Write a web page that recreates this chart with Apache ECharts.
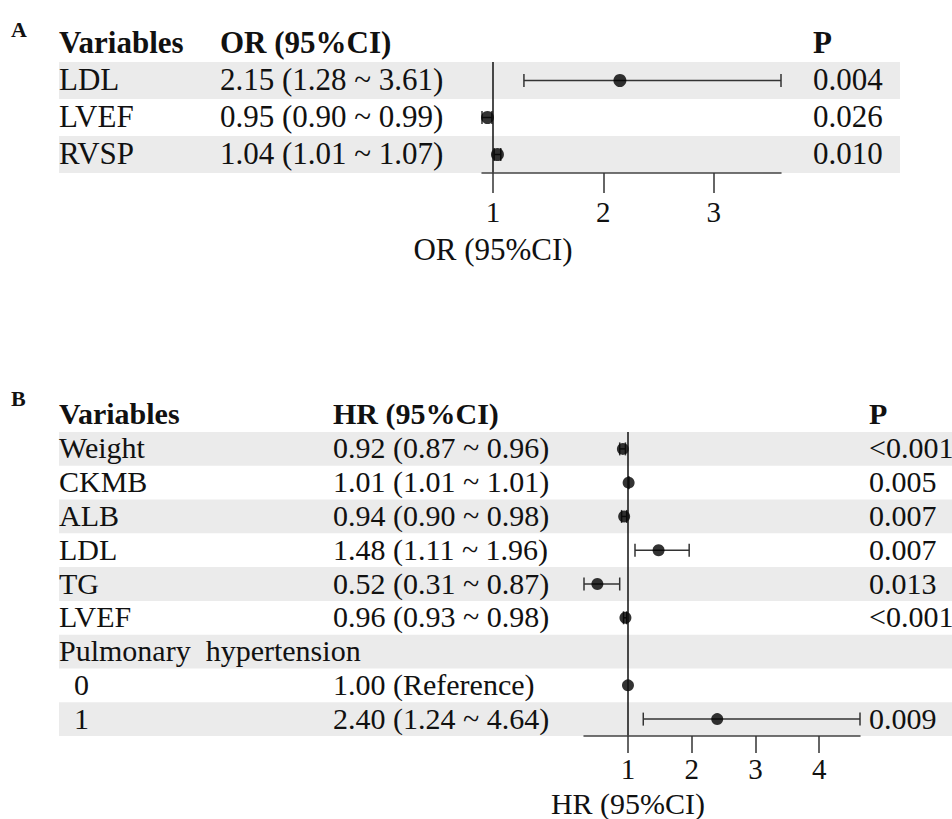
<!DOCTYPE html>
<html>
<head>
<meta charset="utf-8">
<script src="https://cdn.jsdelivr.net/npm/echarts@6/dist/echarts.min.js"></script>
<style>
  body { margin: 0; background: #fff; }
  #main { width: 952px; height: 819px; }
</style>
</head>
<body>
<div id="main"></div>
<script>
// panel A: logistic regression
var varsA = ['LDL', 'LVEF', 'RVSP'];
var orA = [2.15, 0.95, 1.04];
var lowA = [1.28, 0.90, 1.01];
var highA = [3.61, 0.99, 1.07];
var pA = ['0.004', '0.026', '0.010'];
var ticksA = [1, 2, 3];

// panel B: cox regression
var varsB = ['Weight', 'CKMB', 'ALB', 'LDL', 'TG', 'LVEF', 'Pulmonary\u00a0\u00a0hypertension', '\u00a0\u00a00', '\u00a0\u00a01'];
var hrB = [0.92, 1.01, 0.94, 1.48, 0.52, 0.96, null, 1.00, 2.40];
var lowB = [0.87, 1.01, 0.90, 1.11, 0.31, 0.93, null, null, 1.24];
var highB = [0.96, 1.01, 0.98, 1.96, 0.87, 0.98, null, null, 4.64];
var pB = ['<0.001', '0.005', '0.007', '0.007', '0.013', '<0.001', '', '', '0.009'];
var ticksB = [1, 2, 3, 4];

var FONT = '"Liberation Serif", "Times New Roman", serif';
var BAND = '#ebebeb';

function estText(est, lo, hi) {
  if (est == null) return '';
  if (lo == null) return est.toFixed(2) + ' (Reference)';
  return est.toFixed(2) + ' (' + lo.toFixed(2) + ' ~ ' + hi.toFixed(2) + ')';
}

// table rows: band + three text columns, y from the category axis
function tableSeries(idx, names, est, lo, hi, p, cols, bandRight, fontSize) {
  var rows = names.map(function (n, i) { return [1, i]; });
  return {
    type: 'custom',
    xAxisIndex: idx, yAxisIndex: idx,
    z: 1, silent: true,
    data: rows,
    renderItem: function (params, api) {
      var i = api.value(1);
      var c = api.coord([1, i]);
      var h = api.size([0, 1])[1];
      var kids = [];
      if (i % 2 === 0) {
        kids.push({ type: 'rect', shape: { x: cols[0], y: c[1] - h / 2, width: bandRight - cols[0], height: h },
          style: { fill: BAND }, z2: 0 });
      }
      var txt = [names[i], estText(est[i], lo[i], hi[i]), p[i]];
      for (var k = 0; k < 3; k++) {
        kids.push({ type: 'text', z2: 5,
          style: { text: txt[k], x: cols[k], y: c[1] - 1, fill: '#111',
            font: fontSize + 'px ' + FONT, align: 'left', verticalAlign: 'middle' } });
      }
      return { type: 'group', children: kids };
    }
  };
}

function ciSeries(idx, lo, hi, cap) {
  var data = [];
  lo.forEach(function (v, i) { if (v != null) data.push([v, hi[i], i]); });
  return {
    type: 'custom',
    xAxisIndex: idx, yAxisIndex: idx,
    z: 3, silent: true,
    encode: { x: [0, 1], y: 2 },
    data: data,
    renderItem: function (params, api) {
      var a = api.coord([api.value(0), api.value(2)]);
      var b = api.coord([api.value(1), api.value(2)]);
      var st = { stroke: '#333', lineWidth: 1.5 };
      return { type: 'group', children: [
        { type: 'line', shape: { x1: a[0], y1: a[1], x2: b[0], y2: b[1] }, style: st },
        { type: 'line', shape: { x1: a[0], y1: a[1] - cap / 2, x2: a[0], y2: a[1] + cap / 2 }, style: st },
        { type: 'line', shape: { x1: b[0], y1: b[1] - cap / 2, x2: b[0], y2: b[1] + cap / 2 }, style: st }
      ] };
    }
  };
}

function pointSeries(idx, est, size) {
  var data = [];
  est.forEach(function (v, i) { if (v != null) data.push([v, i]); });
  return {
    type: 'scatter',
    xAxisIndex: idx, yAxisIndex: idx,
    z: 4, silent: true,
    symbolSize: size,
    itemStyle: { color: '#000' },
    data: data,
    markLine: {
      silent: true, symbol: ['none', 'none'],
      label: { show: false },
      lineStyle: { color: '#111', width: 1.5, type: 'solid' },
      data: [{ xAxis: 1 }]
    }
  };
}

function xAxisOf(idx, min, max, ticks, tickLen, margin) {
  return {
    type: 'value', gridIndex: idx, min: min, max: max, z: 5,
    splitLine: { show: false },
    axisLine: { show: true, lineStyle: { color: '#444', width: 1.5 } },
    axisTick: { show: true, length: tickLen, customValues: ticks, lineStyle: { color: '#333', width: 1.5 } },
    axisLabel: { customValues: ticks, margin: margin, color: '#111', fontSize: 29, fontFamily: FONT }
  };
}

function yAxisOf(idx, names) {
  return { type: 'category', gridIndex: idx, data: names, inverse: true, show: false };
}

var chartDom = document.getElementById('main');
var myChart = echarts.init(chartDom, null, { renderer: 'svg' });
var option = {
  animation: false,
  backgroundColor: '#fff',
  grid: [
    { left: 482, width: 299, top: 62, height: 111 },
    { left: 584, width: 276, top: 432, height: 304 }
  ],
  xAxis: [
    xAxisOf(0, 0.90, 3.61, ticksA, 20, 24),
    xAxisOf(1, 0.31, 4.64, ticksB, 17, 18)
  ],
  yAxis: [yAxisOf(0, varsA), yAxisOf(1, varsB)],
  series: [
    tableSeries(0, varsA, orA, lowA, highA, pA, [59, 220, 813], 900, 31),
    ciSeries(0, lowA, highA, 13),
    pointSeries(0, orA, 13),
    tableSeries(1, varsB, hrB, lowB, highB, pB, [59, 333, 869], 952, 30),
    ciSeries(1, lowB, highB, 13),
    pointSeries(1, hrB, 12)
  ]
};
myChart.setOption(option);

// headers, panel letters, axis titles centred on the reference line
function label(text, x, y, size, bold, align) {
  return { type: 'text', z: 10, silent: true,
    style: { text: text, x: x, y: y, fill: '#111', align: align || 'left', verticalAlign: 'middle',
      font: (bold ? 'bold ' : '') + size + 'px ' + FONT } };
}
var refA = myChart.convertToPixel({ xAxisIndex: 0 }, 1);
var refB = myChart.convertToPixel({ xAxisIndex: 1 }, 1);
myChart.setOption({
  graphic: [
    label('A', 11, 29, 22, true),
    label('Variables', 59, 42, 31, true),
    label('OR (95%CI)', 220, 42, 31, true),
    label('P', 813, 42, 31, true),
    label('OR (95%CI)', refA, 249, 31, false, 'center'),
    label('B', 11, 398, 22, true),
    label('Variables', 59, 413, 30, true),
    label('HR (95%CI)', 333, 413, 30, true),
    label('P', 869, 413, 30, true),
    label('HR (95%CI)', refB, 803, 30, false, 'center')
  ]
});
</script>
</body>
</html>
